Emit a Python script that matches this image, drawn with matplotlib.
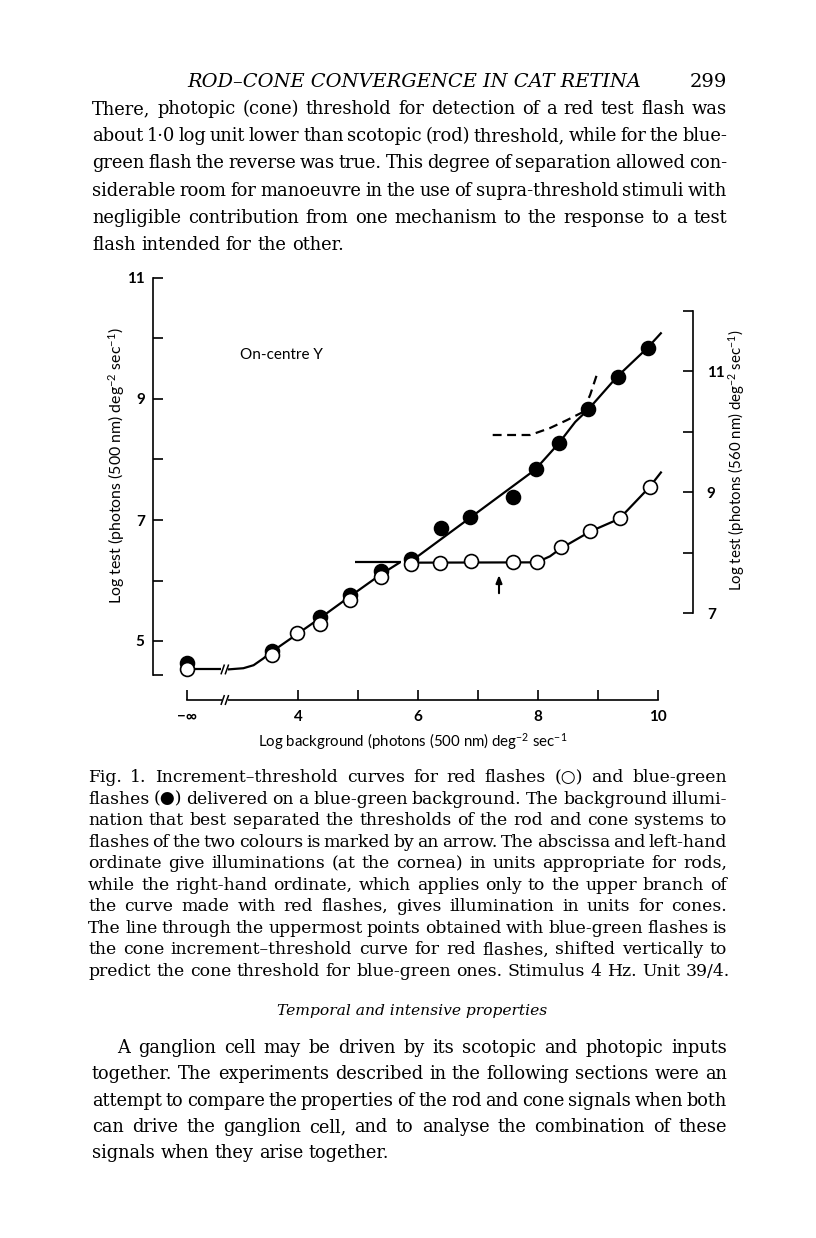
import matplotlib
matplotlib.use('Agg')
import matplotlib.pyplot as plt

plt.rcParams['mathtext.fontset'] = 'custom'
plt.rcParams['mathtext.rm'] = 'Lato'
plt.rcParams['mathtext.it'] = 'Lato:italic'
plt.rcParams['mathtext.bf'] = 'Lato:bold'

W, H = 816, 1238

# ---------------- data ----------------
NEG_INF = 2.15  # position used for the "-infinity" background
bg_filled = [NEG_INF, 3.56, 4.37, 4.87, 5.38, 5.88, 6.38, 6.86, 7.58, 7.96, 8.35, 8.84, 9.33, 9.84]
test_filled = [4.63, 4.84, 5.40, 5.76, 6.15, 6.36, 6.86, 7.05, 7.38, 7.84, 8.27, 8.83, 9.37, 9.84]
bg_open = [NEG_INF, 3.56, 3.98, 4.37, 4.87, 5.38, 5.88, 6.37, 6.88, 7.59, 7.98, 8.38, 8.87, 9.36, 9.86]
test_open = [4.54, 4.77, 5.13, 5.28, 5.68, 6.06, 6.27, 6.29, 6.33, 6.30, 6.30, 6.55, 6.82, 7.03, 7.54]

# fitted curves (traced)
rod_stub_x = [NEG_INF, 2.72]
rod_stub_y = [4.53, 4.53]
rod_x = [2.83, 3.09, 3.26, 3.42, 3.56, 3.98, 4.37, 4.87, 5.38, 5.70]
rod_y = [4.53, 4.55, 4.60, 4.71, 4.82, 5.11, 5.38, 5.74, 6.10, 6.30]
plateau_x = [4.95, 5.72]
plateau_y = [6.30, 6.30]
upper_x = [5.90, 6.90, 7.95, 8.34, 8.62, 8.84, 9.32, 9.82, 10.06]
upper_y = [6.33, 7.06, 7.83, 8.26, 8.62, 8.83, 9.37, 9.84, 10.10]
rod_dash_x = [8.75, 8.87, 8.98]
rod_dash_y = [8.80, 9.07, 9.40]
cone_dash_x = [7.245, 7.87, 8.20, 8.48, 8.70, 8.84]
cone_dash_y = [8.405, 8.405, 8.52, 8.65, 8.76, 8.83]
open_x = [5.95, 7.98, 8.20, 8.38, 8.87, 9.355, 9.855, 10.06]
open_y = [6.295, 6.30, 6.40, 6.53, 6.81, 7.02, 7.54, 7.80]
arrow_x = 7.35
arrow_y = [5.79, 6.09]

xtick_pos = [NEG_INF, 4, 5, 6, 7, 8, 9, 10]
xtick_lab = ['\u2212\u221e', '4', '', '6', '', '8', '', '10']
ytick_pos = [4.44, 5, 6, 7, 8, 9, 10, 11]
ytick_lab = ['', '5', '', '7', '', '9', '', '11']
rtick_pos = [7, 8, 9, 10, 11, 12]
rtick_lab = ['7', '', '9', '', '11', '']
RIGHT_OFFSET = 1.54

# ---------------- page text ----------------
header = 'ROD\u2013CONE CONVERGENCE IN CAT RETINA'
page_no = '299'
para1 = [
    'There, photopic (cone) threshold for detection of a red test flash was',
    'about 1\u00b70 log unit lower than scotopic (rod) threshold, while for the blue-',
    'green flash the reverse was true. This degree of separation allowed con-',
    'siderable room for manoeuvre in the use of supra-threshold stimuli with',
    'negligible contribution from one mechanism to the response to a test',
    'flash intended for the other.',
]
caption = [
    'Fig. 1. Increment\u2013threshold curves for red flashes (\u25cb) and blue-green',
    'flashes (\u25cf) delivered on a blue-green background. The background illumi-',
    'nation that best separated the thresholds of the rod and cone systems to',
    'flashes of the two colours is marked by an arrow. The abscissa and left-hand',
    'ordinate give illuminations (at the cornea) in units appropriate for rods,',
    'while the right-hand ordinate, which applies only to the upper branch of',
    'the curve made with red flashes, gives illumination in units for cones.',
    'The line through the uppermost points obtained with blue-green flashes is',
    'the cone increment\u2013threshold curve for red flashes, shifted vertically to',
    'predict the cone threshold for blue-green ones. Stimulus 4 Hz. Unit 39/4.',
]
section = 'Temporal and intensive properties'
para2 = [
    'A ganglion cell may be driven by its scotopic and photopic inputs',
    'together. The experiments described in the following sections were an',
    'attempt to compare the properties of the rod and cone signals when both',
    'can drive the ganglion cell, and to analyse the combination of these',
    'signals when they arise together.',
]
xlabel = 'Log background (photons (500 nm) deg$^{-2}$ sec$^{-1}$'
ylabel_l = 'Log test (photons (500 nm) deg$^{-2}$ sec$^{-1}$)'
ylabel_r = 'Log test (photons (560 nm) deg$^{-2}$ sec$^{-1}$)'
unit_label = 'On-centre Y'

# ---------------- figure ----------------
fig = plt.figure(figsize=(W / 100, H / 100), dpi=100)
fig.patch.set_facecolor('white')
renderer = fig.canvas.get_renderer()

SERIF = 'DejaVu Serif'
SANS = 'Lato'


def fx(px):
    return px / W


def fy(py):
    return 1 - py / H


def width_of(s, fs, **kw):
    t = fig.text(0, 0, s, fontsize=fs, **kw)
    w = t.get_window_extent(renderer).width
    t.remove()
    return w


def fit_size(s, target, **kw):
    return 10 * target / width_of(s, 10, **kw)


def paragraph(lines, x0, x1, base0, step, fs, indent=0, **kw):
    space = width_of('a a', fs, **kw) - width_of('aa', fs, **kw)
    for i, line in enumerate(lines):
        words = line.split(' ')
        start = x0 + (indent if i == 0 else 0)
        objs, ws = [], []
        for w in words:
            t = fig.text(0, 0, w, fontsize=fs, va='baseline', ha='left', **kw)
            objs.append(t)
            ws.append(t.get_window_extent(renderer).width)
        last = (i == len(lines) - 1)
        if len(words) > 1 and not last:
            gap = (x1 - start - sum(ws)) / (len(words) - 1)
        else:
            gap = space
        x = start
        base = base0 + i * step
        for t, w in zip(objs, ws):
            t.set_position((fx(x), fy(base)))
            x += w + gap


def para_size(lines, x0, x1, indent=0, min_gap=0.55, **kw):
    space = width_of('a a', 10, **kw) - width_of('aa', 10, **kw)
    best = 100
    for i, line in enumerate(lines[:-1]):
        avail = x1 - x0 - (indent if i == 0 else 0)
        words = line.split(' ')
        wsum = sum(width_of(w, 10, **kw) for w in words)
        best = min(best, 10 * avail / (wsum + min_gap * space * (len(words) - 1)))
    return best


# header
hs = fit_size(header, 453, family=SERIF, style='italic')
fig.text(fx(187), fy(87), header, fontsize=hs, family=SERIF, style='italic', va='baseline', ha='left')
fig.text(fx(727), fy(87), page_no, fontsize=hs, family=SERIF, va='baseline', ha='right')

fs1 = para_size(para1, 92, 727, family=SERIF)
paragraph(para1, 92, 727, 114, 27.2, fs1, family=SERIF)

fs_c = para_size(caption, 88, 727, family=SERIF)
paragraph(caption, 88, 727, 782, 21.55, fs_c, family=SERIF)

ss = fit_size(section, 270, family=SERIF, style='italic')
fig.text(fx(412), fy(1015), section, fontsize=ss, family=SERIF, style='italic', va='baseline', ha='center')

fs2 = para_size(para2, 92, 727, indent=25, family=SERIF)
paragraph(para2, 92, 727, 1053, 26.3, fs2, indent=25, family=SERIF)

# ---------------- chart ----------------
ax = fig.add_axes([130 / W, 1 - 731.75 / H, 588 / W, (731.75 - 259.85) / H])
ax.set_xlim(1.2, 11.0)
ax.set_ylim(3.5, 11.3)
ax.patch.set_alpha(0)
for s in ['top', 'right']:
    ax.spines[s].set_visible(False)
ax.spines['left'].set_position(('data', 1.583))
ax.spines['left'].set_bounds(4.44, 11)
ax.spines['bottom'].set_position(('data', 4.025))
ax.spines['bottom'].set_bounds(NEG_INF, 10)
for s in ['left', 'bottom']:
    ax.spines[s].set_linewidth(1.2)
ax.set_xticks(xtick_pos, xtick_lab)
ax.set_yticks(ytick_pos, ytick_lab)
ax.tick_params(axis='both', direction='in', length=7, width=1.2, labelsize=11)
ax.tick_params(axis='y', pad=6)
ax.tick_params(axis='x', pad=7)
for lab in ax.get_xticklabels() + ax.get_yticklabels():
    lab.set_family(SANS)
    lab.set_fontweight('bold')

ax2 = ax.twinx()
ax2.set_ylim(3.5 + RIGHT_OFFSET, 11.3 + RIGHT_OFFSET)
for s in ['top', 'left', 'bottom']:
    ax2.spines[s].set_visible(False)
ax2.spines['right'].set_position(('data', 10.583))
ax2.spines['right'].set_bounds(7, 12)
ax2.spines['right'].set_linewidth(1.2)
ax2.set_yticks(rtick_pos, rtick_lab)
ax2.tick_params(axis='y', direction='in', length=7, width=1.2, labelsize=11, pad=10)
for lab in ax2.get_yticklabels():
    lab.set_family(SANS)
    lab.set_fontweight('bold')

# curves
lk = dict(color='black', lw=1.6, zorder=2, solid_capstyle='butt')
ax.plot(rod_stub_x, rod_stub_y, **lk)
ax.plot(rod_x, rod_y, **lk)
ax.plot(plateau_x, plateau_y, **lk)
ax.plot(upper_x, upper_y, **lk)
ax.plot(open_x, open_y, **lk)
ax.plot(rod_dash_x, rod_dash_y, color='black', lw=1.6, ls=(0, (4, 2.5)), zorder=2)
ax.plot(cone_dash_x, cone_dash_y, color='black', lw=1.6, ls=(0, (4, 2.5)), zorder=2)

# break marks on curve and axis
for yb in [4.53, 4.025]:
    ax.plot([2.735, 2.825], [yb, yb], color='white', lw=4, zorder=6, clip_on=False,
            solid_capstyle='butt')
    for xc in [2.745, 2.815]:
        ax.plot([xc - 0.025, xc + 0.025], [yb - 0.07, yb + 0.07], color='black', lw=1.1,
                zorder=7, clip_on=False)

# points
ax.plot(bg_filled, test_filled, 'o', ms=10, mfc='black', mec='black', mew=1.2, zorder=3)
ax.plot(bg_open, test_open, 'o', ms=10, mfc='white', mec='black', mew=1.2, zorder=4)

# arrow
ax.annotate('', xy=(arrow_x, arrow_y[1]), xytext=(arrow_x, arrow_y[0]),
            arrowprops=dict(arrowstyle='-|>,head_length=0.45,head_width=0.18',
                            color='black', lw=1.5, shrinkA=0, shrinkB=0))

ax.text(3.03, 9.73, unit_label, fontsize=11, family=SANS, va='center', ha='left')

# axis labels
xs = fit_size(xlabel, 310, family=SANS)
fig.text(fx(413), fy(742), xlabel, fontsize=xs, family=SANS, ha='center', va='center')
ls_ = fit_size(ylabel_l, 276, family=SANS)
fig.text(fx(117), fy(466), ylabel_l, fontsize=ls_, family=SANS, ha='center', va='center',
         rotation=90)
rs_ = fit_size(ylabel_r, 262, family=SANS)
fig.text(fx(737), fy(460), ylabel_r, fontsize=rs_, family=SANS, ha='center', va='center',
         rotation=90)

fig.savefig('out.png', dpi=100, facecolor='white')
